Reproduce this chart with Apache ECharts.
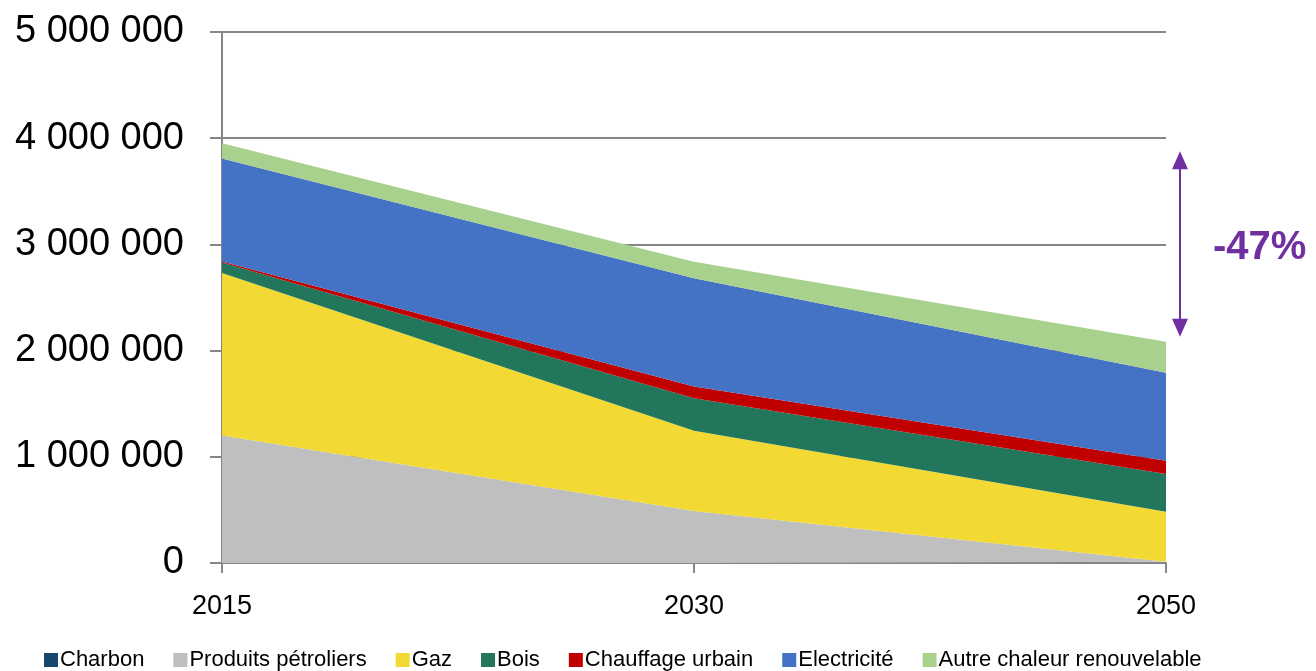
<!DOCTYPE html>
<html>
<head>
<meta charset="utf-8">
<script src="https://cdn.jsdelivr.net/npm/echarts@6/dist/echarts.min.js"></script>
<style>
  html, body { margin: 0; padding: 0; background: #fff; }
  #chart { width: 1316px; height: 671px; }
</style>
</head>
<body>
<div id="chart"></div>
<script>
// années
var years = ["2015", "2030", "2050"];

// consommation par énergie
var charbon = [0, 0, 0];
var produitsPetroliers = [1200000, 490000, 12000];
var gaz = [1530000, 756000, 471000];
var bois = [100000, 305000, 355000];
var chauffageUrbain = [10000, 110000, 125000];
var electricite = [970000, 1020000, 829000];
var autreChaleur = [142000, 156000, 292000];

var yTicks = [0, 1000000, 2000000, 3000000, 4000000, 5000000];
var variationLabel = "-47%";

var myChart = echarts.init(document.getElementById("chart"));

function fmt(v) {
  return String(v).replace(/\B(?=(\d{3})+(?!\d))/g, " ");
}

function area(name, data, color) {
  return {
    name: name,
    type: "line",
    stack: "total",
    data: data,
    symbol: "none",
    lineStyle: { width: 0 },
    areaStyle: { color: color, opacity: 1 },
    itemStyle: { color: color },
    emphasis: { disabled: true }
  };
}

var option = {
  animation: false,
  grid: { left: 222, right: 150, top: 32, bottom: 108 },
  legend: {
    left: 44,
    top: 649,
    padding: 0,
    icon: "rect",
    itemWidth: 14,
    itemHeight: 14,
    itemGap: 29,
    textStyle: { fontFamily: "Liberation Sans", fontSize: 22, color: "#000", padding: [0, 0, 0, -3] }
  },
  xAxis: {
    type: "category",
    data: years,
    boundaryGap: false,
    axisLine: { lineStyle: { color: "#868686", width: 2 } },
    axisTick: { show: true, length: 10, lineStyle: { color: "#868686", width: 2 } },
    axisLabel: { margin: 30, fontFamily: "Liberation Sans", fontSize: 27, color: "#000" },
    splitLine: { show: false }
  },
  yAxis: {
    type: "value",
    min: 0,
    max: yTicks[yTicks.length - 1],
    interval: yTicks[1] - yTicks[0],
    axisLine: { show: true, lineStyle: { color: "#868686", width: 2 } },
    axisTick: { show: true, length: 12, lineStyle: { color: "#868686", width: 2 } },
    axisLabel: {
      margin: 38,
      fontFamily: "Liberation Sans",
      fontSize: 38,
      color: "#000",
      formatter: function (v) { return fmt(v); }
    },
    splitLine: { lineStyle: { color: "#868686", width: 2 } }
  },
  series: [
    area("Charbon", charbon, "#17476F"),
    area("Produits pétroliers", produitsPetroliers, "#BFBFBF"),
    area("Gaz", gaz, "#F3D933"),
    area("Bois", bois, "#22765C"),
    area("Chauffage urbain", chauffageUrbain, "#C00000"),
    area("Electricité", electricite, "#4472C4"),
    area("Autre chaleur renouvelable", autreChaleur, "#A9D18E")
  ]
};
myChart.setOption(option);

// flèche de variation entre le total 2015 et le total 2050
function total(i) {
  return charbon[i] + produitsPetroliers[i] + gaz[i] + bois[i] + chauffageUrbain[i] + electricite[i] + autreChaleur[i];
}
var yTop = myChart.convertToPixel({ yAxisIndex: 0 }, total(0)) + 8;
var yBot = myChart.convertToPixel({ yAxisIndex: 0 }, total(2)) - 5;
var xLast = myChart.convertToPixel({ xAxisIndex: 0 }, years[2]);
var ax = xLast + 14;
var purple = "#7030A0";

myChart.setOption({
  graphic: [
    { type: "line", shape: { x1: ax, y1: yTop + 14, x2: ax, y2: yBot - 14 }, style: { stroke: purple, lineWidth: 2 } },
    { type: "polygon", shape: { points: [[ax, yTop], [ax - 8, yTop + 18], [ax + 8, yTop + 18]] }, style: { fill: purple } },
    { type: "polygon", shape: { points: [[ax, yBot], [ax - 8, yBot - 18], [ax + 8, yBot - 18]] }, style: { fill: purple } },
    {
      type: "text",
      x: ax + 33,
      y: (yTop + yBot) / 2 + 4,
      style: {
        text: variationLabel,
        fill: purple,
        font: "bold 40px 'Liberation Sans'",
        verticalAlign: "middle"
      }
    }
  ]
});
</script>
</body>
</html>
